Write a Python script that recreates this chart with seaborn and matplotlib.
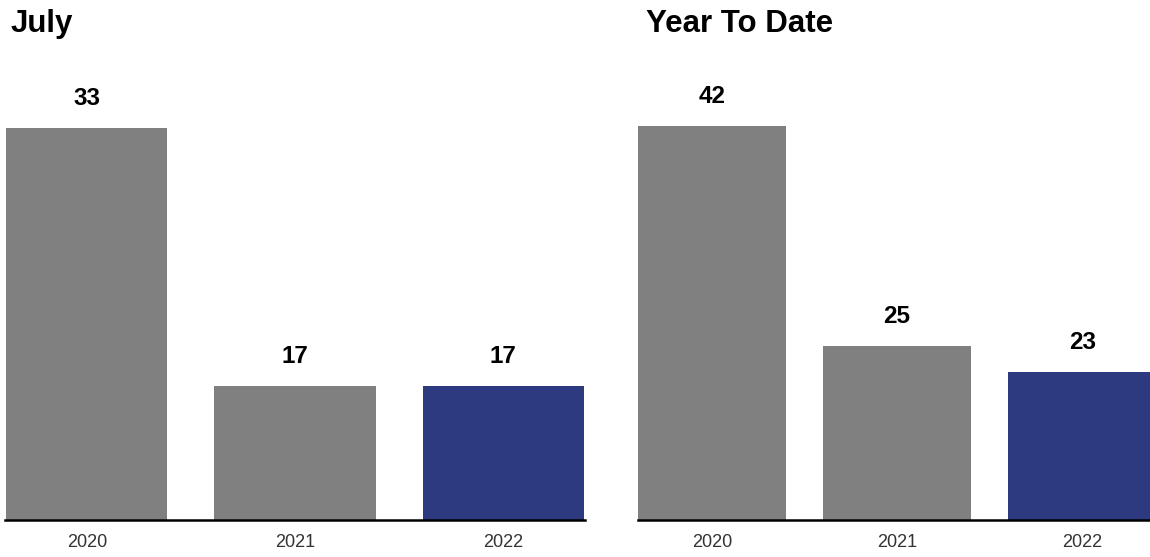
import matplotlib
matplotlib.use("Agg")
import matplotlib.pyplot as plt
import seaborn as sns
import pandas as pd

years = ["2020", "2021", "2022"]
july_values = [33, 17, 17]
ytd_values = [42, 25, 23]
panel_titles = ["July", "Year To Date"]
bar_colors = ["#808080", "#808080", "#2E3A80"]

sns.set_theme(style="white")
plt.rcParams["font.family"] = ["Liberation Sans", "DejaVu Sans"]

W, H = 1150, 557
fig = plt.figure(figsize=(W / 100, H / 100), dpi=100)

def px_axes(x0, x1, ytop, ybot):
    return fig.add_axes([x0 / W, 1 - ybot / H, (x1 - x0) / W, (ybot - ytop) / H])

ax1 = px_axes(5, 585, 60, 520.3)
ax2 = px_axes(637.7, 1156.3, 60, 520.3)

panels = [
    (ax1, july_values, 0.775, (-0.393, 2.393), (8.7, 8.7 + 460.3 / 16.14), 11),
    (ax2, ytd_values, 0.80, (-0.40, 2.40), (11.55, 11.55 + 460.3 / 12.95), 646),
]

for (ax, vals, bw, xl, yl, tx), title in zip(panels, panel_titles):
    df = pd.DataFrame({"year": years, "value": vals})
    sns.barplot(data=df, x="year", y="value", hue="year", palette=bar_colors,
                saturation=1, width=bw, legend=False, ax=ax, linewidth=0)
    ax.set_xlim(*xl)
    ax.set_ylim(*yl)
    for c in ax.containers:
        ax.bar_label(c, labels=[f"{v:.0f}" for v in c.datavalues], padding=13,
                     fontsize=17.5, fontweight="bold", color="black")
    ax.set_xlabel("")
    ax.set_ylabel("")
    ax.set_yticks([])
    for s in ["top", "left", "right"]:
        ax.spines[s].set_visible(False)
    ax.spines["bottom"].set_color("black")
    ax.spines["bottom"].set_linewidth(1.8)
    ax.tick_params(axis="x", length=0, pad=10, labelsize=13, labelcolor="#333333")
    ax.set_facecolor("white")
    fig.text(tx / W, 1 - 32 / H, title, fontsize=22.5, fontweight="bold",
             color="black", ha="left", va="baseline")

fig.savefig("out.png", dpi=100, facecolor="white")
